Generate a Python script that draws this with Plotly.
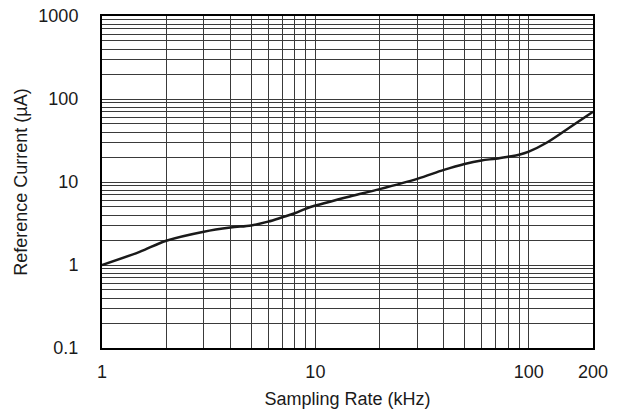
import plotly.graph_objects as go
import math

# Data
rate_khz = [1, 1.5, 2, 3, 4, 5, 6, 7, 8, 9, 10, 14.5, 20, 30, 40, 50, 60, 70, 80, 90, 100, 120, 150, 200]
ref_current_ua = [1.0, 1.44, 1.96, 2.52, 2.83, 3.0, 3.33, 3.76, 4.2, 4.75, 5.2, 6.7, 8.2, 10.9, 14.0, 16.5, 18.2, 19.1, 20.2, 21.3, 23.2, 29.3, 42.6, 70]

x_tick_vals = [1, 10, 100, 200]
x_tick_text = ["1", "10", "100", "200"]
y_tick_vals = [0.1, 1, 10, 100, 1000]
y_tick_text = ["0.1", "1", "10", "100", "1000"]

x_minor = [m * d for d in (1, 10, 100) for m in range(2, 10) if m * d < 200]
y_minor = [m * d for d in (0.1, 1, 10, 100) for m in range(2, 10)]

fig = go.Figure()
fig.add_trace(go.Scatter(
    x=rate_khz, y=ref_current_ua, mode="lines",
    line=dict(color="#1a1a1a", width=2.5, shape="spline", smoothing=1.0),
    showlegend=False, hoverinfo="skip",
))

font = "Liberation Sans, Arial, Helvetica, sans-serif"
grid = "#3a3a3a"

fig.update_layout(
    width=621, height=417,
    margin=dict(l=102, r=28, t=16, b=69),
    paper_bgcolor="white", plot_bgcolor="white",
    font=dict(family=font, size=18, color="#1a1a1a"),
    xaxis=dict(
        type="log", range=[0, math.log10(200)], automargin=False,
        tickmode="array", tickvals=x_tick_vals, ticktext=x_tick_text,
        showgrid=True, gridcolor=grid, gridwidth=1,
        minor=dict(tickmode="array", tickvals=x_minor, showgrid=True, gridcolor=grid, gridwidth=1),
        showline=True, linecolor="black", linewidth=2, mirror=True,
        ticks="", ticklabelstandoff=6, ticklabeloverflow="allow",
        tickfont=dict(size=18),
        title=dict(text="Sampling Rate (kHz)", font=dict(size=18), standoff=12),
        zeroline=False,
    ),
    yaxis=dict(
        type="log", range=[-1, 3], automargin=False,
        tickmode="array", tickvals=y_tick_vals, ticktext=y_tick_text,
        showgrid=True, gridcolor=grid, gridwidth=1,
        minor=dict(tickmode="array", tickvals=y_minor, showgrid=True, gridcolor=grid, gridwidth=1),
        showline=True, linecolor="black", linewidth=2, mirror=True,
        ticks="", ticklabelstandoff=18, ticklabeloverflow="allow",
        tickfont=dict(size=18),
        title=dict(text="Reference Current (µA)", font=dict(size=18), standoff=6),
        zeroline=False,
    ),
)

fig.write_html("out.html", config={"displayModeBar": False},
               post_script="document.body.style.margin='0';")
